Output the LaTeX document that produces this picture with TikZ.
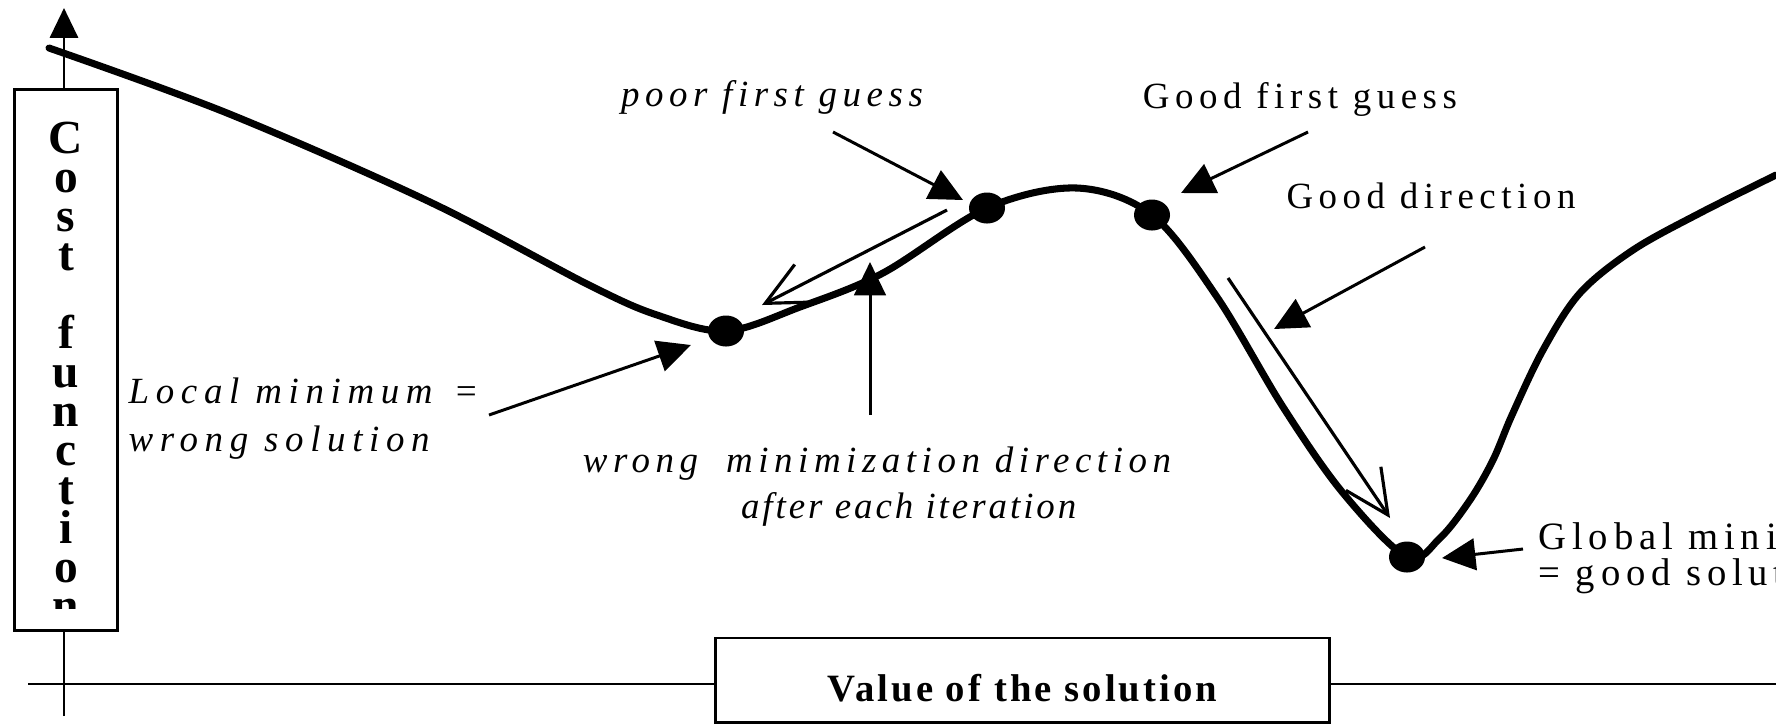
\documentclass[tikz,border=0pt]{standalone}
\usepackage{fontspec}
\setmainfont{Liberation Serif}
\newfontfamily\labfont[LetterSpace=15]{Liberation Serif}
\newfontfamily\widefont[LetterSpace=18]{Liberation Serif}
\newfontfamily\tightfont[LetterSpace=8]{Liberation Serif}
\newfontfamily\valfont[LetterSpace=8]{Liberation Serif}
\usetikzlibrary{arrows.meta,shapes.geometric}
\begin{document}
\begin{tikzpicture}[x=0.01cm,y=-0.01cm,
  axisline/.style={line width=0.8pt},
  curve/.style={line width=2pt, line join=round, line cap=round},
  dot/.style={ellipse, fill=black, draw=none, minimum width=0.36cm, minimum height=0.31cm, inner sep=0pt},
  ann/.style={line width=0.85pt, -{Triangle[length=9.5pt,width=9pt]}},
  dirarrow/.style={line width=0.9pt, -{Straight Barb[length=12.5pt,width=12pt,line width=0.9pt]}},
  lbl/.style={font=\labfont\fontsize{10.5}{13}\selectfont, inner sep=0pt},
  ilbl/.style={font=\labfont\itshape\fontsize{10.5}{13}\selectfont, inner sep=0pt},
  costbox/.style={draw, fill=white, line width=0.85pt, minimum width=1.02cm, minimum height=5.4cm, inner sep=0pt},
  costtext/.style={font=\bfseries\fontsize{13.5}{11.1}\selectfont, inner sep=0pt, align=center},
  valbox/.style={draw, fill=white, line width=0.85pt, minimum width=6.13cm, minimum height=0.84cm, inner sep=0pt,
    font=\valfont\bfseries\fontsize{11}{13}\selectfont}
]
\useasboundingbox (0,0) rectangle (1776,723);
\clip (0,0) rectangle (1776,723);

% axes
\coordinate (xleft) at (28,684);
\coordinate (xright) at (1776,684);
\draw[axisline] (xleft) -- (xright);
\coordinate (ybot) at (64,716);
\coordinate (ytop) at (64,8);
\draw[axisline,-{Triangle[length=8.5pt,width=8pt]}] (ybot) -- (ytop);

% cost function box
\node[costbox] (costbox) at (66,360) {};
\node[costtext, anchor=north] (tcost) at (66,121) {C\\o\\s\\t\\[11.1pt]f\\u\\n\\c\\t\\i\\o\\n};
\fill[white] (20,609) rectangle (112,627);

% value box
\node[valbox] (tvalue) at (1022.5,680) {\raisebox{-0.08cm}[\height][\depth]{Value of the solution}};

% cost curve
\draw[curve] plot[smooth, tension=0.55] coordinates {(49,48) (227,113) (430,202) (589,285) (657,315) (726,331) (800,307) (883,273) (987,208) (1077,188) (1152,215) (1217,297) (1283,407) (1343,493) (1407,557) (1440,538) (1470,500) (1493,460) (1512,415) (1543,350) (1580,293) (1633,250) (1700,213) (1776,175)};

% points on the curve
\node[dot] (lmin) at (726,331) {};
\node[dot] (poor) at (987,208) {};
\node[dot] (good) at (1152,215) {};
\node[dot] (gmin) at (1407,557) {};

% labels
\node[ilbl, anchor=base] (tpoor) at (772,106) {poor first guess};
\node[lbl, anchor=base] (tgood) at (1300,108) {Good first guess};
\node[lbl, anchor=base] (tgdir) at (1431,208) {Good direction};
\node[ilbl, font=\widefont\itshape\fontsize{10.5}{13.6}\selectfont, anchor=north west, align=left] (tlocal) at (128,377) {Local minimum\hspace{6pt}=\\wrong solution};
\node[ilbl, anchor=north, align=center] (twrong) at (877,446) {wrong\hspace{8pt}minimization direction\\\hspace*{18pt}{\tightfont\itshape after each iteration}};
\node[lbl, font=\labfont\fontsize{11}{10.2}\selectfont, anchor=north west, align=left] (tglobal) at (1538,522) {Global minimum\\= good solution};

% annotation arrows
\coordinate (a1s) at (833,132); \coordinate (a1e) at (963,200);
\coordinate (a2s) at (1308,132); \coordinate (a2e) at (1181,193);
\coordinate (a3s) at (1425,247); \coordinate (a3e) at (1274,329);
\coordinate (a4s) at (489,415); \coordinate (a4e) at (691,345);
\coordinate (a5s) at (870,415); \coordinate (a5e) at (870,262);
\coordinate (a6s) at (1523,549); \coordinate (a6e) at (1442,558);
\draw[ann] (a1s) -- (a1e);
\draw[ann] (a2s) -- (a2e);
\draw[ann] (a3s) -- (a3e);
\draw[ann] (a4s) -- (a4e);
\draw[ann] (a5s) -- (a5e);
\draw[ann] (a6s) -- (a6e);

% direction arrows
\coordinate (d1s) at (947,210); \coordinate (d1e) at (762,305);
\coordinate (d2s) at (1228,278); \coordinate (d2e) at (1390,518);
\draw[dirarrow] (d1s) -- (d1e);
\draw[dirarrow] (d2s) -- (d2e);
\end{tikzpicture}
\end{document}
